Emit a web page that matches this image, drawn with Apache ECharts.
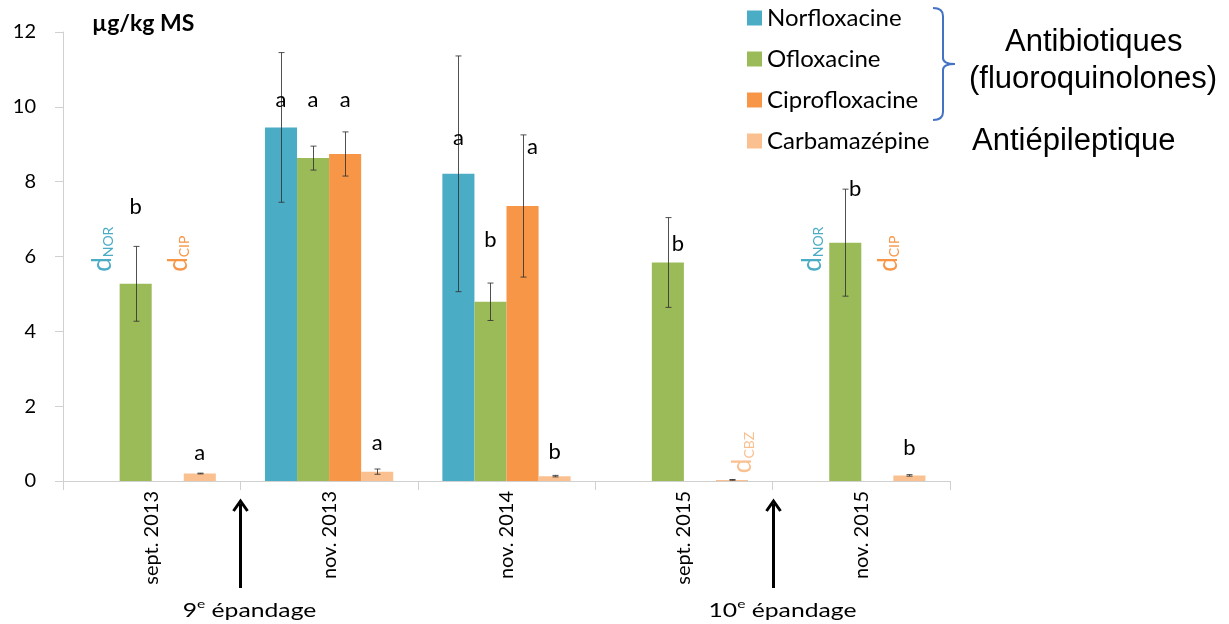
<!DOCTYPE html>
<html>
<head>
<meta charset="utf-8">
<script src="https://cdn.jsdelivr.net/npm/echarts@6/dist/echarts.min.js"></script>
<style>
html,body{margin:0;padding:0;background:#fff;}
#chart{width:1229px;height:624px;}
</style>
</head>
<body>
<div id="chart"></div>
<script>
// ---- data ----
const categories = ['sept. 2013', 'nov. 2013', 'nov. 2014', 'sept. 2015', 'nov. 2015'];
const seriesNames = ['Norfloxacine', 'Ofloxacine', 'Ciprofloxacine', 'Carbamazépine'];
const norValues = [null, 9.45, 8.21, null, null];
const norErrors = [null, 2.0, 3.15, null, null];
const oflValues = [5.27, 8.63, 4.79, 5.84, 6.37];
const oflErrors = [1.0, 0.32, 0.5, 1.2, 1.43];
const cipValues = [null, 8.74, 7.35, null, null];
const cipErrors = [null, 0.59, 1.9, null, null];
const cbzValues = [0.2, 0.25, 0.13, 0.03, 0.15];
const cbzErrors = [0.01, 0.07, 0.02, 0.01, 0.02];
// significance letters and the height (µg/kg) at which they are written
const norLetters = ['', 'a', 'a', '', ''];
const norLetterAt = [null, 10.19, 9.17, null, null];
const oflLetters = ['b', 'a', 'b', 'b', 'b'];
const oflLetterAt = [7.33, 10.19, 6.44, 6.34, 7.81];
const cipLetters = ['', 'a', 'a', '', ''];
const cipLetterAt = [null, 10.19, 8.93, null, null];
const cbzLetters = ['a', 'a', 'b', '', 'b'];
const cbzLetterAt = [0.75, 1.02, 0.78, null, 0.88];
// "detected, not quantified" marks: category index, series index, code, base height
const detectCats = [0, 0, 3, 4, 4];
const detectSeries = [0, 2, 3, 0, 2];
const detectCodes = ['NOR', 'CIP', 'CBZ', 'NOR', 'CIP'];
const detectAt = [5.59, 5.59, 0.21, 5.59, 5.59];
// spreading events, placed after these category indices
const spreadAfter = [0, 3];
const spreadNums = ['9', '10'];
const yTicks = [0, 2, 4, 6, 8, 10, 12];

// ---- styling ----
const colors = ['#4BACC6', '#9BBB59', '#F79646', '#FAC090'];
const GAP = 0.277;
const FONT = 'Lato';

const values = [norValues, oflValues, cipValues, cbzValues];
const errors = [norErrors, oflErrors, cipErrors, cbzErrors];
const letters = [norLetters, oflLetters, cipLetters, cbzLetters];
const letterAt = [norLetterAt, oflLetterAt, cipLetterAt, cbzLetterAt];

function slotX(api, cat, s) {
  const c = api.coord([cat, 0]);
  const band = api.size([1, 0])[0];
  const bw = band * (1 - GAP) / 4;
  return c[0] + (s - 1.5) * bw;
}

const errData = [];
values.forEach((arr, s) => arr.forEach((v, i) => {
  if (v != null) errData.push([i, v, errors[s][i], s]);
}));
const letterData = [];
const letterText = [];
letters.forEach((arr, s) => arr.forEach((t, i) => {
  if (t) {
    letterData.push([i, letterAt[s][i], s, values[s][i], errors[s][i]]);
    letterText.push(t);
  }
}));
const detectData = detectCats.map((c, k) => [c, detectAt[k], detectSeries[k]]);

const barSeries = seriesNames.map((name, s) => ({
  name: name,
  type: 'bar',
  data: values[s],
  barGap: '0%',
  barCategoryGap: (GAP * 100) + '%',
  itemStyle: { color: colors[s] },
  emphasis: { disabled: true },
  z: 2
}));

const brSt = { fill: null, stroke: '#4472C4', lineWidth: 2 };
const rightFont = '31px "Liberation Sans"';
const option = {
  animation: false,
  textStyle: { fontFamily: FONT },
  title: {
    text: 'µg/kg MS',
    left: 87, top: 7,
    textStyle: { fontFamily: FONT, fontWeight: 'bold', fontSize: 23, color: '#000' }
  },
  legend: {
    data: seriesNames,
    orient: 'vertical',
    left: 747, top: 6,
    itemWidth: 15, itemHeight: 15, itemGap: 17,
    icon: 'rect',
    padding: 0,
    textStyle: { fontFamily: FONT, fontSize: 24, color: '#000' }
  },
  grid: { left: 63, right: 279, top: 32, bottom: 143, containLabel: false },
  xAxis: {
    type: 'category',
    data: categories,
    axisLine: { lineStyle: { color: '#D0D0D0', width: 1 } },
    axisTick: { show: true, length: 9, lineStyle: { color: '#D0D0D0' } },
    axisLabel: { rotate: 90, fontSize: 20, margin: 10, color: '#000', fontFamily: FONT, interval: 0 }
  },
  yAxis: {
    type: 'value',
    min: yTicks[0], max: yTicks[yTicks.length - 1], interval: yTicks[1] - yTicks[0],
    axisLine: { show: true, lineStyle: { color: '#D0D0D0', width: 1 } },
    axisTick: { show: true, length: 8, lineStyle: { color: '#D0D0D0' } },
    splitLine: { show: false },
    axisLabel: { fontSize: 20, margin: 27, color: '#000', fontFamily: FONT }
  },
  graphic: [
    { type: 'bezierCurve', shape: { x1: 933, y1: 8, cpx1: 943, cpy1: 8, x2: 943, y2: 16 }, style: brSt },
    { type: 'line', shape: { x1: 943, y1: 16, x2: 943, y2: 58 }, style: brSt },
    { type: 'bezierCurve', shape: { x1: 943, y1: 58, cpx1: 943, cpy1: 64, x2: 955, y2: 64 }, style: brSt },
    { type: 'bezierCurve', shape: { x1: 955, y1: 64, cpx1: 943, cpy1: 64, x2: 943, y2: 70 }, style: brSt },
    { type: 'line', shape: { x1: 943, y1: 70, x2: 943, y2: 112 }, style: brSt },
    { type: 'bezierCurve', shape: { x1: 943, y1: 112, cpx1: 943, cpy1: 120, x2: 933, y2: 120 }, style: brSt },
    { type: 'text', left: 1005, top: 27, style: { text: 'Antibiotiques', font: rightFont, fill: '#000' } },
    { type: 'text', left: 969, top: 64, style: { text: '(fluoroquinolones)', font: rightFont, fill: '#000' } },
    { type: 'text', left: 972, top: 126, style: { text: 'Antiépileptique', font: rightFont, fill: '#000' } }
  ],
  series: barSeries.concat([
    {
      type: 'custom',
      name: 'errors',
      data: errData,
      z: 5,
      renderItem: function (params, api) {
        const i = api.value(0), v = api.value(1), e = api.value(2), s = api.value(3);
        const x = Math.round(slotX(api, i, s)) + 0.5;
        const yt = api.coord([i, v + e])[1];
        const yb = api.coord([i, v - e])[1];
        const st = { stroke: '#333', lineWidth: 1, opacity: 0.85 };
        return {
          type: 'group',
          children: [
            { type: 'line', shape: { x1: x, y1: yt, x2: x, y2: yb }, style: st },
            { type: 'line', shape: { x1: x - 3, y1: yt, x2: x + 3, y2: yt }, style: st },
            { type: 'line', shape: { x1: x - 3, y1: yb, x2: x + 3, y2: yb }, style: st }
          ]
        };
      }
    },
    {
      type: 'custom',
      name: 'letters',
      data: letterData,
      z: 6,
      renderItem: function (params, api) {
        const i = api.value(0), h = api.value(1), s = api.value(2);
        const v = api.value(3), e = api.value(4);
        let x = slotX(api, i, s);
        if (s > 0 && h <= v + e + 0.15 && h >= v - e) x += 10;
        const y = api.coord([i, h])[1];
        return {
          type: 'text',
          x: x, y: y,
          style: { text: letterText[params.dataIndex], font: '22px ' + FONT, fill: '#000', align: 'center', verticalAlign: 'middle' }
        };
      }
    },
    {
      type: 'custom',
      name: 'detected',
      data: detectData,
      z: 6,
      renderItem: function (params, api) {
        const i = api.value(0), h = api.value(1), s = api.value(2);
        const x = slotX(api, i, s);
        const y = api.coord([i, h])[1];
        const code = detectCodes[params.dataIndex];
        return {
          type: 'text',
          x: x, y: y,
          rotation: Math.PI / 2,
          style: {
            text: '{d|d}{s|' + code + '}',
            align: 'left', verticalAlign: s === 0 ? 'middle' : 'top',
            rich: {
              d: { font: '26px ' + FONT, fill: colors[s], lineHeight: 24, verticalAlign: 'bottom' },
              s: { font: '14px ' + FONT, fill: colors[s], lineHeight: 14, verticalAlign: 'bottom' }
            }
          }
        };
      }
    },
    {
      type: 'custom',
      name: 'spreading',
      data: spreadAfter.map((c, k) => [c, 0, k]),
      z: 6,
      clip: false,
      renderItem: function (params, api) {
        const i = api.value(0);
        const p = api.coord([i, 0]);
        const band = api.size([1, 0])[0];
        const x = Math.round(p[0] + band / 2) + 0.5;
        const y0 = p[1];
        const tip = y0 + 19, end = y0 + 107;
        return {
          type: 'group',
          children: [
            { type: 'line', shape: { x1: x, y1: tip + 4, x2: x, y2: end }, style: { stroke: '#000', lineWidth: 3 } },
            { type: 'polyline', shape: { points: [[x - 7, tip + 11], [x, tip + 1], [x + 7, tip + 11]] }, style: { stroke: '#000', lineWidth: 3, fill: null } },
            {
              type: 'text', x: x + 9, y: y0 + 128, scaleX: 1.3,
              style: {
                text: '{n|' + spreadNums[params.dataIndex] + '}{e|e}{n| épandage}',
                align: 'center', verticalAlign: 'middle',
                rich: {
                  n: { font: '19px ' + FONT, fill: '#000', verticalAlign: 'bottom', lineHeight: 22 },
                  e: { font: '12px ' + FONT, fill: '#000', verticalAlign: 'top', lineHeight: 22 }
                }
              }
            }
          ]
        };
      }
    }
  ])
};

const chart = echarts.init(document.getElementById('chart'), null, { renderer: 'canvas' });
chart.setOption(option);
</script>
</body>
</html>
